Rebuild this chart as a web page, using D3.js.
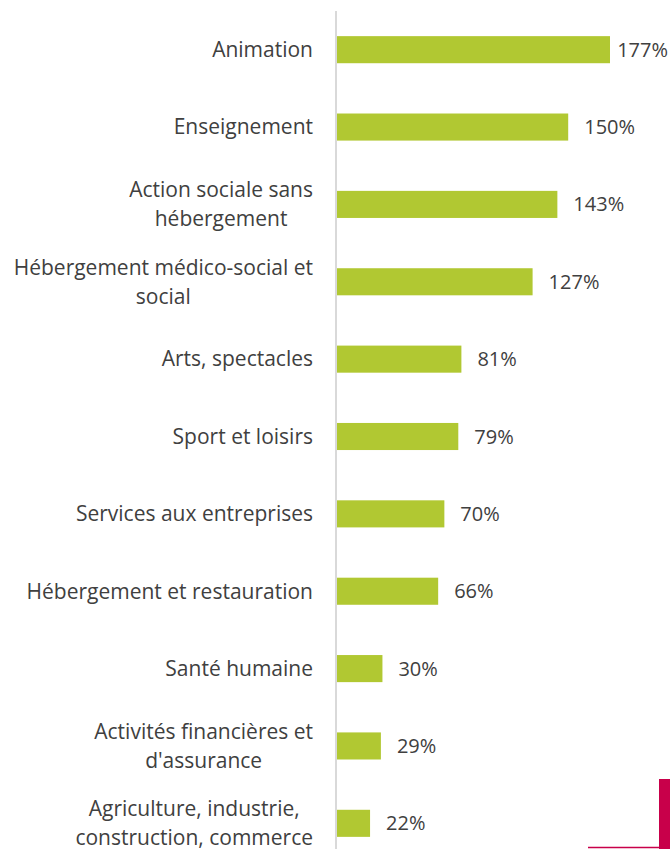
<!DOCTYPE html>
<html>
<head>
<meta charset="utf-8">
<script src="https://cdn.jsdelivr.net/npm/d3@7"></script>
<style>
  body { margin: 0; background: #fff; }
  svg { display: block; }
</style>
</head>
<body>
<div id="chart"></div>
<script>
// Categories (each entry = the label lines) and values in %
const categories = [
  ['Animation'],
  ['Enseignement'],
  ['Action sociale sans', 'hébergement'],
  ['Hébergement médico-social et', 'social'],
  ['Arts, spectacles'],
  ['Sport et loisirs'],
  ['Services aux entreprises'],
  ['Hébergement et restauration'],
  ['Santé humaine'],
  ['Activités financières et', "d'assurance"],
  ['Agriculture, industrie,', 'construction, commerce']
];
const values = [177, 150, 143, 127, 81, 79, 70, 66, 30, 29, 22];

const W = 670, H = 849;
const x0 = 336;
const font = '"Open Sans", sans-serif';

const svg = d3.select('#chart').append('svg')
  .attr('width', W).attr('height', H);

const keys = categories.map(d => d.join(' '));
const y = d3.scaleBand().domain(keys).range([11, 862]).paddingInner(0.65).paddingOuter(0.325);
const x = d3.scaleLinear().domain([0, 177]).range([x0, 610]);

// Axis line
svg.append('line')
  .attr('x1', x0).attr('x2', x0)
  .attr('y1', 11).attr('y2', H)
  .attr('stroke', '#d9d9d9').attr('stroke-width', 2);

// Bars
svg.selectAll('rect.bar').data(values).join('rect')
  .attr('class', 'bar')
  .attr('x', x0 + 1)
  .attr('y', (d, i) => y(keys[i]))
  .attr('width', d => x(d) - x0 - 1)
  .attr('height', y.bandwidth())
  .attr('fill', '#b1c832');

// Category labels: block right-aligned, lines centred inside block
const lineH = 29;
categories.forEach((lines, i) => {
  const cy = y(keys[i]) + y.bandwidth() / 2;
  const g = svg.append('g');
  const texts = lines.map((t, j) => g.append('text')
    .attr('y', cy + (j - (lines.length - 1) / 2) * lineH)
    .attr('dy', '0.35em')
    .attr('font-family', font).attr('font-size', 21)
    .attr('fill', '#404040')
    .attr('text-anchor', 'middle')
    .text(t));
  const maxW = d3.max(texts, t => t.node().getComputedTextLength());
  texts.forEach(t => t.attr('x', 313 - maxW / 2));
});

// Value labels
svg.selectAll('text.val').data(values).join('text')
  .attr('class', 'val')
  .attr('y', (d, i) => y(keys[i]) + y.bandwidth() / 2)
  .attr('dy', '0.35em')
  .attr('font-family', font).attr('font-size', 20)
  .attr('fill', '#404040')
  .text(d => d + '%')
  .attr('x', function(d) {
    const w = this.getComputedTextLength();
    return Math.min(x(d) + 16, W - w - 2);
  });

// Page decoration in the corner
svg.append('rect').attr('x', 659).attr('y', 779).attr('width', 11).attr('height', 70).attr('fill', '#c8004a');
svg.append('line').attr('x1', 588).attr('x2', 660).attr('y1', 847.5).attr('y2', 847.5)
  .attr('stroke', '#c8004a').attr('stroke-width', 1.5);
</script>
</body>
</html>
